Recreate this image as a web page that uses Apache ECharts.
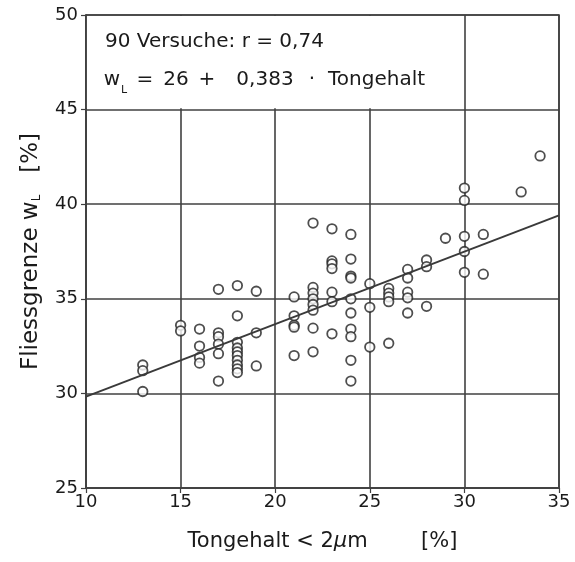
<!DOCTYPE html>
<html>
<head>
<meta charset="utf-8">
<script src="https://cdn.jsdelivr.net/npm/echarts@6/dist/echarts.min.js"></script>
<style>
html,body{margin:0;padding:0;background:#fff;}
#chart{width:575px;height:562px;}
</style>
</head>
<body>
<div id="chart"></div>
<script>
// Tongehalt < 2 µm [%] (x) and Fliessgrenze wL [%] (y)
const tongehalt = [
  13,13,13,
  15,15,
  16,16,16,16,
  17,17,17,17,17,17,
  18,18,18,18,18,18,18,18,18,18,
  19,19,19,
  21,21,21,21,21,
  22,22,22,22,22,22,22,22,
  23,23,23,23,23,23,23,
  24,24,24,24,24,24,24,24,24,24,
  25,25,25,
  26,26,26,26,26,
  27,27,27,27,27,
  28,28,28,
  29,
  30,30,30,30,30,
  31,31,
  33,
  34
];
const fliessgrenze = [
  31.5,31.2,30.1,
  33.6,33.3,
  33.4,32.5,31.9,31.6,
  35.5,33.2,33.0,32.6,32.1,30.65,
  35.7,34.1,32.7,32.4,32.2,32.0,31.75,31.5,31.3,31.1,
  35.4,33.2,31.45,
  35.1,34.1,33.6,33.5,32.0,
  39.0,35.6,35.3,35.0,34.7,34.4,33.45,32.2,
  38.7,37.0,36.85,36.6,35.35,34.85,33.15,
  38.4,37.1,36.2,36.1,35.0,34.25,33.4,33.0,31.75,30.65,
  35.8,34.55,32.45,
  35.55,35.3,35.1,34.85,32.65,
  36.55,36.1,35.35,35.05,34.25,
  37.05,36.7,34.6,
  38.2,
  40.85,40.2,38.3,37.5,36.4,
  38.4,36.3,
  40.65,
  42.55
];
// Regression line wL = 26 + 0.383 * Tongehalt, end points
const lineX = [10, 35];
const lineY = [29.83, 39.41];
const xTicks = [10, 15, 20, 25, 30, 35];
const yTicks = [25, 30, 35, 40, 45, 50];
const infoLine1 = '90 Versuche: r = 0,74';
// pieces of the equation line
const eqPieces = ['w', '=', '26', '+', '0,383', '·', 'Tongehalt'];

const points = tongehalt.map((x, i) => [x, fliessgrenze[i]]);
const linePts = lineX.map((x, i) => [x, lineY[i]]);

const FONT = 'DejaVu Sans';
const TXT = '#1a1a1a';
const GRID = '#404040';

const eqX = [112, 145, 176, 207, 265, 312, 328];
const eqAlign = ['center', 'center', 'center', 'center', 'center', 'center', 'left'];
const eqGraphics = eqPieces.map((t, i) => ({
  type: 'text', x: eqX[i], y: 70, z: 100,
  style: {text: t, font: '20px "DejaVu Sans"', fill: TXT, textAlign: eqAlign[i], textVerticalAlign: 'top'}
}));
eqGraphics.push({
  type: 'text', x: 121, y: 85, z: 100,
  style: {text: 'L', font: '11px "DejaVu Sans"', fill: TXT, textAlign: 'left', textVerticalAlign: 'top'}
});

const chart = echarts.init(document.getElementById('chart'), null, {renderer: 'canvas'});
chart.setOption({
  animation: false,
  backgroundColor: '#fff',
  grid: {left: 86, right: 16, top: 15, bottom: 74, show: true, borderColor: GRID, borderWidth: 1.6},
  xAxis: {
    type: 'value', min: xTicks[0], max: xTicks[xTicks.length - 1], interval: 5,
    axisLine: {show: true, lineStyle: {color: GRID, width: 1.6}},
    axisTick: {show: true, length: 5, lineStyle: {color: GRID, width: 1.2}},
    splitLine: {show: true, lineStyle: {color: GRID, width: 1.6}},
    axisLabel: {color: TXT, fontFamily: FONT, fontSize: 18, margin: 5},
    name: 'Tongehalt < 2{mu|μ}m        [%]',
    nameLocation: 'middle', nameGap: 43,
    nameTextStyle: {color: TXT, fontFamily: FONT, fontSize: 21,
      rich: {mu: {fontStyle: 'italic', fontFamily: FONT, fontSize: 21, color: TXT}}}
  },
  yAxis: {
    type: 'value', min: yTicks[0], max: yTicks[yTicks.length - 1], interval: 5,
    axisLine: {show: true, lineStyle: {color: GRID, width: 1.6}},
    axisTick: {show: true, length: 5, lineStyle: {color: GRID, width: 1.2}},
    splitLine: {show: true, lineStyle: {color: GRID, width: 1.6}},
    axisLabel: {color: TXT, fontFamily: FONT, fontSize: 18, margin: 8},
    name: 'Fliessgrenze w{sub|L}   [%]',
    nameLocation: 'middle', nameGap: 43,
    nameTextStyle: {color: TXT, fontFamily: FONT, fontSize: 23,
      rich: {sub: {fontSize: 12, fontFamily: FONT, color: TXT, verticalAlign: 'bottom', padding: [11, 0, 0, 0]}}}
  },
  series: [
    {
      type: 'scatter',
      data: points,
      symbol: 'circle',
      symbolSize: 9.5,
      itemStyle: {color: '#fff', borderColor: '#222', borderWidth: 1.8},
      z: 3,
      markArea: {
        silent: true,
        itemStyle: {color: '#fff', opacity: 1},
        data: [[{coord: [10.05, 45.07]}, {coord: [29.95, 49.95]}]]
      }
    },
    {
      type: 'line',
      data: linePts,
      symbol: 'none',
      lineStyle: {color: '#3a3a3a', width: 2},
      z: 4
    }
  ],
  graphic: [
    {type: 'text', left: 105, top: 32, z: 100,
      style: {text: infoLine1, font: '20px "DejaVu Sans"', fill: TXT}}
  ].concat(eqGraphics)
});
</script>
</body>
</html>
